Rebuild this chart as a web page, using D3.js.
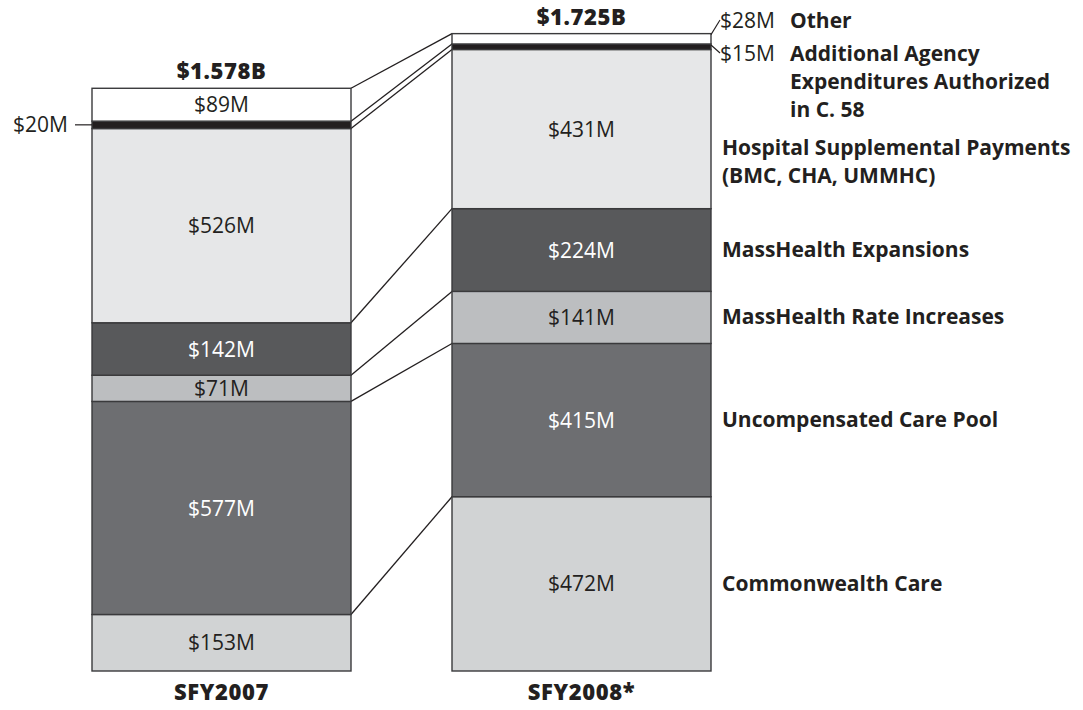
<!DOCTYPE html>
<html><head><meta charset="utf-8">
<script src="https://cdn.jsdelivr.net/npm/d3@7"></script>
<style>body{margin:0;background:#fff}svg{display:block}</style>
</head><body>
<svg id="c" width="1083" height="710"></svg>
<script>
const years = ["SFY2007", "SFY2008*"];
const categories = ["Commonwealth Care", "Uncompensated Care Pool", "MassHealth Rate Increases", "MassHealth Expansions", "Hospital Supplemental Payments (BMC, CHA, UMMHC)", "Additional Agency Expenditures Authorized in C. 58", "Other"];
const values2007 = [153, 577, 71, 142, 526, 20, 89];
const values2008 = [472, 415, 141, 224, 431, 15, 28];
const totalLabels = ["$1.578B", "$1.725B"];
const categoryLines = [["Commonwealth Care"], ["Uncompensated Care Pool"], ["MassHealth Rate Increases"], ["MassHealth Expansions"], ["Hospital Supplemental Payments", "(BMC, CHA, UMMHC)"], ["Additional Agency", "Expenditures Authorized", "in C. 58"], ["Other"]];

const fills = ["#d1d3d4", "#6d6e71", "#bcbec0", "#58595b", "#e6e7e8", "#231f20", "#ffffff"];
const textFills = ["#231f20", "#ffffff", "#231f20", "#ffffff", "#231f20", "#231f20", "#231f20"];
const FONT = "'Open Sans', 'Noto Sans', sans-serif";
const VS = 21, LS = 21, TS = 22;

const svg = d3.select("#c");
const series = [values2007, values2008];
const stacks = series.map(vals => {
  let acc = 0;
  return vals.map((v, i) => { const s = {i, v, y0: acc, y1: acc + v}; acc += v; return s; });
});

const x = d3.scaleBand().domain(years).range([92, 711]).paddingInner(101 / 360).paddingOuter(0);
const y = d3.scaleLinear().domain([0, 1725]).range([671, 34]);
const bw = x.bandwidth();

// connector lines (top of each segment)
const g = svg.append("g");
categories.forEach((c, i) => {
  g.append("line")
    .attr("x1", x(years[0]) + bw).attr("y1", y(stacks[0][i].y1))
    .attr("x2", x(years[1])).attr("y2", y(stacks[1][i].y1))
    .attr("stroke", "#231f20").attr("stroke-width", 1.3);
});

years.forEach((yr, k) => {
  const bg = svg.append("g");
  bg.selectAll("rect").data(stacks[k]).join("rect")
    .attr("x", x(yr)).attr("width", bw)
    .attr("y", d => y(d.y1)).attr("height", d => y(d.y0) - y(d.y1))
    .attr("fill", d => fills[d.i])
    .attr("stroke", "#3a3a3c").attr("stroke-width", 1.4);
  bg.selectAll("text.v").data(stacks[k].filter(d => d.v > 50)).join("text")
    .attr("class", "v")
    .attr("x", x(yr) + bw / 2).attr("y", d => (y(d.y0) + y(d.y1)) / 2)
    .attr("dy", "0.36em").attr("text-anchor", "middle")
    .attr("font-family", FONT).attr("font-size", VS)
    .attr("fill", d => textFills[d.i])
    .text(d => "$" + d.v + "M");
  svg.append("text")
    .attr("x", x(yr) + bw / 2).attr("y", y(d3.sum(series[k])) - 9)
    .attr("text-anchor", "middle").attr("font-family", FONT)
    .attr("font-weight", 800).attr("font-size", TS).attr("letter-spacing", 0.6).attr("fill", "#231f20")
    .text(totalLabels[k]);
  svg.append("text")
    .attr("x", x(yr) + bw / 2).attr("y", 700)
    .attr("text-anchor", "middle").attr("font-family", FONT)
    .attr("font-weight", 800).attr("font-size", TS).attr("letter-spacing", 0.6).attr("fill", "#231f20")
    .text(yr);
});

// $20M left label
{
  const s = stacks[0][5];
  const cy = (y(s.y0) + y(s.y1)) / 2;
  svg.append("line").attr("x1", x(years[0]) - 17).attr("x2", x(years[0]))
    .attr("y1", cy).attr("y2", cy).attr("stroke", "#231f20").attr("stroke-width", 1.2);
  svg.append("text").attr("x", x(years[0]) - 24).attr("y", cy).attr("dy", "0.36em")
    .attr("text-anchor", "end").attr("font-family", FONT).attr("font-size", VS)
    .attr("fill", "#231f20").text("$" + s.v + "M");
}

// right side small labels with leaders
const rx = x(years[1]) + bw;
const smallBase = {6: 28, 5: 61};
[6, 5].forEach(i => {
  const s = stacks[1][i];
  const by = y(s.y1) + 1;
  const ty = smallBase[i] - 8;
  svg.append("line").attr("x1", rx).attr("y1", by).attr("x2", rx + 9).attr("y2", ty)
    .attr("stroke", "#231f20").attr("stroke-width", 1.1);
  svg.append("text").attr("x", rx + 9).attr("y", smallBase[i])
    .attr("font-family", FONT).attr("font-size", VS).attr("fill", "#231f20")
    .text("$" + s.v + "M");
});

// category labels
const lh = 28;
categories.forEach((c, i) => {
  const s = stacks[1][i];
  const lines = categoryLines[i];
  let x0 = 722, base;
  if (i === 6) { x0 = 790; base = 28; }
  else if (i === 5) { x0 = 790; base = 61; }
  else if (i === 4) { base = 155; }
  else { base = (y(s.y0) + y(s.y1)) / 2 + 7; }
  const t = svg.append("text").attr("font-family", FONT).attr("font-weight", "bold")
    .attr("font-size", LS).attr("fill", "#231f20");
  lines.forEach((ln, j) => {
    t.append("tspan").attr("x", x0).attr("y", base + j * lh).text(ln);
  });
});
</script>
</body></html>
